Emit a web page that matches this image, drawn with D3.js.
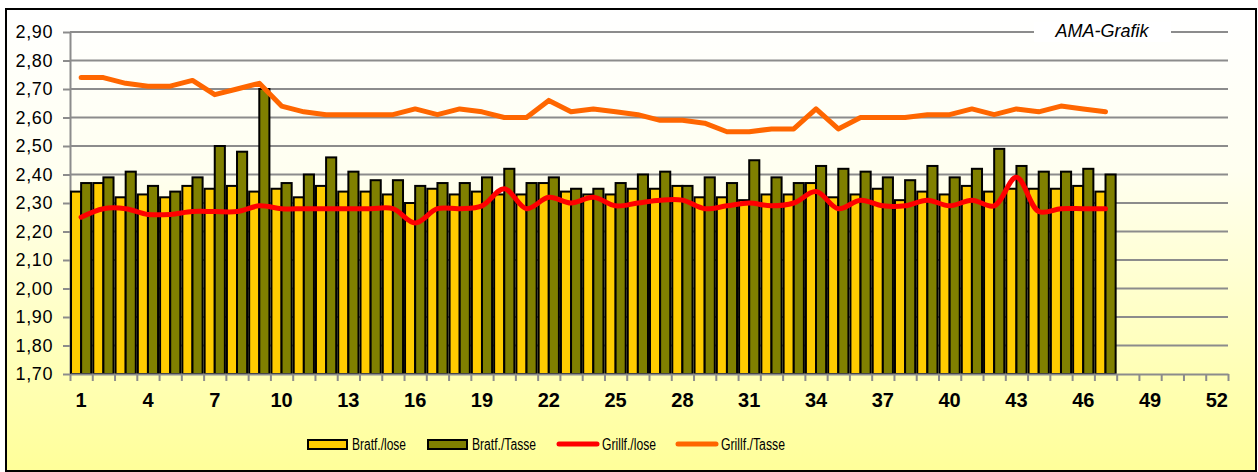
<!DOCTYPE html>
<html>
<head>
<meta charset="utf-8">
<script src="https://cdn.jsdelivr.net/npm/d3@7"></script>
<style>
  body { margin: 0; background: #fff; }
  svg { display: block; }
</style>
</head>
<body>
<div id="chart"></div>
<script>
// categories (week numbers) on the x axis
var categories = [1,2,3,4,5,6,7,8,9,10,11,12,13,14,15,16,17,18,19,20,21,22,23,24,25,26,
  27,28,29,30,31,32,33,34,35,36,37,38,39,40,41,42,43,44,45,46,47,48,49,50,51,52];
var xLabels = [1,4,7,10,13,16,19,22,25,28,31,34,37,40,43,46,49,52];
var yTicks = [1.7,1.8,1.9,2.0,2.1,2.2,2.3,2.4,2.5,2.6,2.7,2.8,2.9];

// series values, weeks 1..47
var bratfLose = [2.34,2.37,2.32,2.33,2.32,2.36,2.35,2.36,2.34,2.35,2.32,2.36,
  2.34,2.34,2.33,2.30,2.35,2.33,2.34,2.33,2.33,2.37,2.34,2.33,
  2.33,2.35,2.35,2.36,2.32,2.32,2.31,2.33,2.33,2.37,2.32,2.33,
  2.35,2.31,2.34,2.33,2.36,2.34,2.35,2.35,2.35,2.36,2.34];
var bratfTasse = [2.37,2.39,2.41,2.36,2.34,2.39,2.50,2.48,2.70,2.37,2.40,2.46,
  2.41,2.38,2.38,2.36,2.37,2.37,2.39,2.42,2.37,2.39,2.35,2.35,
  2.37,2.40,2.41,2.36,2.39,2.37,2.45,2.39,2.37,2.43,2.42,2.41,
  2.39,2.38,2.43,2.39,2.42,2.49,2.43,2.41,2.41,2.42,2.40];
var grillLose = [2.25,2.28,2.28,2.26,2.26,2.27,2.27,2.27,2.29,2.28,2.28,2.28,
  2.28,2.28,2.28,2.23,2.28,2.28,2.29,2.35,2.28,2.32,2.30,2.32,
  2.29,2.30,2.31,2.31,2.28,2.29,2.30,2.29,2.30,2.34,2.28,2.31,
  2.29,2.29,2.31,2.29,2.31,2.29,2.39,2.27,2.28,2.28,2.28];
var grillTasse = [2.74,2.74,2.72,2.71,2.71,2.73,2.68,2.70,2.72,2.64,2.62,2.61,
  2.61,2.61,2.61,2.63,2.61,2.63,2.62,2.60,2.60,2.66,2.62,2.63,
  2.62,2.61,2.59,2.59,2.58,2.55,2.55,2.56,2.56,2.63,2.56,2.60,
  2.60,2.60,2.61,2.61,2.63,2.61,2.63,2.62,2.64,2.63,2.62];
var seriesNames = ["Bratf./lose", "Bratf./Tasse", "Grillf./lose", "Grillf./Tasse"];

var W = 1258, H = 472;
var plot = {left: 70, right: 1228, top: 32, bottom: 374};

var svg = d3.select("#chart").append("svg")
  .attr("width", W).attr("height", H);

// background gradient of the whole chart
var defs = svg.append("defs");
var grad = defs.append("linearGradient").attr("id", "bg")
  .attr("x1", 0).attr("y1", 0).attr("x2", 0).attr("y2", 1);
grad.append("stop").attr("offset", "0%").attr("stop-color", "#ffffff");
grad.append("stop").attr("offset", "35%").attr("stop-color", "#fffff0");
grad.append("stop").attr("offset", "100%").attr("stop-color", "#ffff99");

svg.append("rect")
  .attr("x", 6).attr("y", 9).attr("width", 1250).attr("height", 462)
  .attr("fill", "url(#bg)")
  .attr("stroke", "#000").attr("stroke-width", 2);

var x = d3.scaleBand()
  .domain(categories)
  .range([plot.left, plot.right])
  .padding(0);
var xEdge = d3.scaleLinear().domain([0, 52]).range([plot.left, plot.right]);
var x1 = d3.scaleBand()
  .domain(["lose", "tasse"])
  .range([0, x.bandwidth()])
  .paddingInner(0).paddingOuter(0.1);
var y = d3.scaleLinear().domain([1.7, 2.9]).range([plot.bottom, plot.top]);

var fmt = function (d) { return d3.format(".2f")(d).replace(".", ","); };

// gridlines
svg.append("g").selectAll("line")
  .data(yTicks.slice(1))
  .join("line")
  .attr("x1", plot.left).attr("x2", plot.right)
  .attr("y1", function (d) { return y(d); })
  .attr("y2", function (d) { return y(d); })
  .attr("stroke", "#8c8c8c").attr("stroke-width", 2);

// AMA-Grafik label over top gridline
svg.append("rect")
  .attr("x", 1034).attr("y", 22).attr("width", 137).attr("height", 20)
  .attr("fill", "#ffffff");
svg.append("text")
  .attr("x", 1102).attr("y", 37)
  .attr("text-anchor", "middle")
  .attr("font-family", "Liberation Sans, Arial, sans-serif")
  .attr("font-style", "italic")
  .attr("font-size", 18)
  .attr("fill", "#000")
  .text("AMA-Grafik");

// Y axis
var yAxis = svg.append("g")
  .attr("transform", "translate(" + plot.left + ",0)")
  .call(d3.axisLeft(y).tickValues(yTicks).tickFormat(fmt).tickSize(7).tickSizeOuter(0).tickPadding(10));
yAxis.select(".domain").attr("stroke", "#8c8c8c").attr("stroke-width", 2);
yAxis.selectAll(".tick line").attr("stroke", "#8c8c8c").attr("stroke-width", 2);
yAxis.selectAll("text")
  .attr("font-family", "Liberation Sans, Arial, sans-serif")
  .attr("font-size", 18).attr("fill", "#000")
  .attr("letter-spacing", 0.6);

// bars
var groups = svg.append("g").selectAll("g")
  .data(bratfLose.map(function (v, i) {
    return {cat: categories[i], lose: v, tasse: bratfTasse[i]};
  }))
  .join("g")
  .attr("transform", function (d) { return "translate(" + x(d.cat) + ",0)"; });
groups.selectAll("rect")
  .data(function (d) { return [{k: "lose", v: d.lose}, {k: "tasse", v: d.tasse}]; })
  .join("rect")
  .attr("x", function (d) { return x1(d.k); })
  .attr("width", x1.bandwidth())
  .attr("y", function (d) { return y(d.v); })
  .attr("height", function (d) { return y(1.7) - y(d.v); })
  .attr("fill", function (d) { return d.k === "lose" ? "#ffcc00" : "#808000"; })
  .attr("stroke", "#000").attr("stroke-width", 2);

// X axis (tick marks at category boundaries)
var xAxis = svg.append("g")
  .attr("transform", "translate(0," + plot.bottom + ")")
  .call(d3.axisBottom(xEdge).tickValues(d3.range(0, 53)).tickFormat("").tickSize(7).tickSizeOuter(0));
xAxis.select(".domain").attr("stroke", "#8c8c8c").attr("stroke-width", 2);
xAxis.selectAll(".tick line").attr("stroke", "#8c8c8c").attr("stroke-width", 2);

svg.append("g").selectAll("text")
  .data(xLabels)
  .join("text")
  .attr("x", function (d) { return x(d) + x.bandwidth() / 2; })
  .attr("y", 407)
  .attr("text-anchor", "middle")
  .attr("font-family", "Liberation Sans, Arial, sans-serif")
  .attr("font-weight", "bold")
  .attr("font-size", 20)
  .attr("fill", "#000")
  .text(function (d) { return d; });

// lines
var cx = function (d, i) { return x(categories[i]) + x.bandwidth() / 2; };
var lineSmooth = d3.line().x(cx).y(function (d) { return y(d); }).curve(d3.curveCatmullRom.alpha(0.5));
var lineStraight = d3.line().x(cx).y(function (d) { return y(d); });

svg.append("path").datum(grillLose)
  .attr("d", lineSmooth)
  .attr("fill", "none").attr("stroke", "#ff0000").attr("stroke-width", 5)
  .attr("stroke-linecap", "round").attr("stroke-linejoin", "round");
svg.append("path").datum(grillTasse)
  .attr("d", lineStraight)
  .attr("fill", "none").attr("stroke", "#ff6600").attr("stroke-width", 5)
  .attr("stroke-linecap", "round").attr("stroke-linejoin", "round");

// legend
var legendX = [308, 428, 558, 677];
var legendW = [54, 64, 54, 64];
var legend = svg.append("g");
seriesNames.forEach(function (name, i) {
  var lx = legendX[i];
  if (i < 2) {
    legend.append("rect")
      .attr("x", lx).attr("y", 440).attr("width", 39).attr("height", 9)
      .attr("fill", i === 0 ? "#ffcc00" : "#808000")
      .attr("stroke", "#000").attr("stroke-width", 2);
  } else {
    legend.append("line")
      .attr("x1", lx + 1).attr("x2", lx + 39).attr("y1", 444).attr("y2", 444)
      .attr("stroke", i === 2 ? "#ff0000" : "#ff6600").attr("stroke-width", 5)
      .attr("stroke-linecap", "round");
  }
  legend.append("text")
    .attr("x", lx + 44).attr("y", 450)
    .attr("font-family", "Liberation Sans, Arial, sans-serif")
    .attr("font-size", 16)
    .attr("textLength", legendW[i])
    .attr("lengthAdjust", "spacingAndGlyphs")
    .attr("fill", "#000")
    .text(name);
});
</script>
</body>
</html>
